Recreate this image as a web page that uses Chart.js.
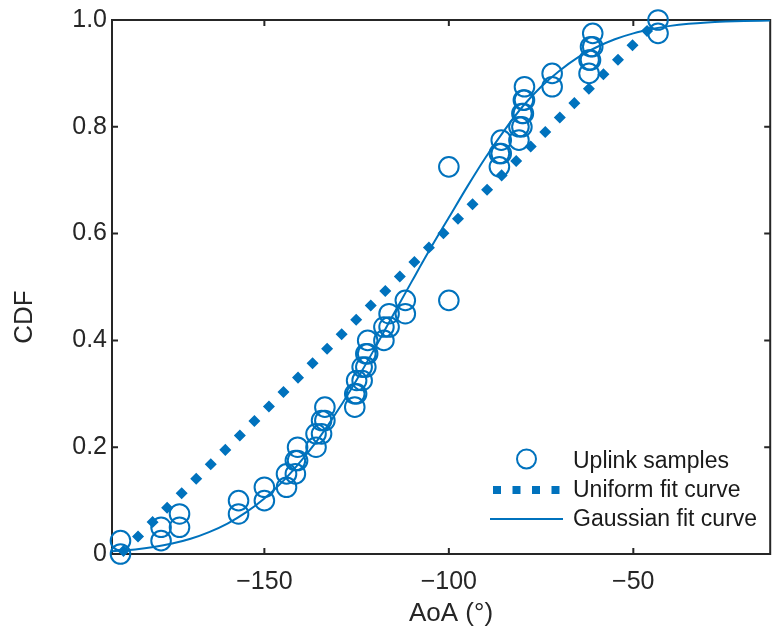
<!DOCTYPE html>
<html>
<head>
<meta charset="utf-8">
<script src="https://cdn.jsdelivr.net/npm/chart.js@4.4.1/dist/chart.umd.min.js"></script>
<style>
  html, body { margin: 0; padding: 0; background: #ffffff; }
  #wrap { width: 782px; height: 631px; position: relative; }
</style>
</head>
<body>
<div id="wrap"><canvas id="c" width="782" height="631"></canvas></div>
<script>
// ---- data ----
// Empirical CDF markers (each sample drawn at the bottom and top of its step)
const sampleAoA = [-189, -189, -178, -178, -173, -173, -157, -157, -150, -150,
  -144, -144, -141.6, -141.6, -141, -141, -136, -136, -134.5, -134.5,
  -133.6, -133.6, -125.5, -125.5, -125, -125, -123.5, -123.5, -122.5, -122.5,
  -122, -122, -117.6, -117.6, -116.2, -116.2, -111.8, -111.8, -100, -100,
  -86.3, -86.3, -85.8, -85.8, -81, -81, -80.2, -80.2, -79.8, -79.8,
  -79.5, -79.5, -72, -72, -62, -62, -61.6, -61.6, -61, -61, -43.3, -43.3];
const sampleCdf = [0, 0.025, 0.025, 0.05, 0.05, 0.075, 0.075, 0.1, 0.1, 0.125,
  0.125, 0.15, 0.15, 0.175, 0.175, 0.2, 0.2, 0.225, 0.225, 0.25,
  0.25, 0.275, 0.275, 0.3, 0.3, 0.325, 0.325, 0.35, 0.35, 0.375,
  0.375, 0.4, 0.4, 0.425, 0.425, 0.45, 0.45, 0.475, 0.475, 0.725,
  0.725, 0.75, 0.75, 0.775, 0.775, 0.8, 0.8, 0.825, 0.825, 0.85,
  0.85, 0.875, 0.875, 0.9, 0.9, 0.925, 0.925, 0.95, 0.95, 0.975, 0.975, 1.0];

// Uniform fit curve (straight line between its end points)
const uniformAoA = [-189, -43.3];
const uniformCdf = [0, 1];

// Gaussian fit curve
const gaussAoA = [-191.3, -185, -180, -175, -170, -165, -160, -155, -150, -145,
  -140, -135, -130, -125, -120, -115, -110, -105, -100, -95,
  -90, -85, -80, -75, -70, -65, -60, -55, -50, -45,
  -40, -35, -30, -25, -20, -12.9];
const gaussCdf = [0.005, 0.0085, 0.013, 0.0195, 0.0285, 0.041, 0.057, 0.078, 0.104, 0.136,
  0.175, 0.219, 0.270, 0.326, 0.386, 0.449, 0.511, 0.572, 0.630, 0.688,
  0.743, 0.793, 0.838, 0.875, 0.905, 0.930, 0.949, 0.964, 0.975, 0.983,
  0.989, 0.993, 0.9955, 0.997, 0.998, 0.999];

// Axes
const xTickValues = [-150, -100, -50];
const xTickLabels = ['\u2212150', '\u2212100', '\u221250'];
const yTickValues = [0, 0.2, 0.4, 0.6, 0.8, 1.0];
const yTickLabels = ['0', '0.2', '0.4', '0.6', '0.8', '1.0'];
const xRange = [-191.3, -12.9];
const yRange = [0, 1];
const xTitle = 'AoA (\u00B0)';
const yTitle = 'CDF';
const legendLabels = ['Uplink samples', 'Uniform fit curve', 'Gaussian fit curve'];

// ---- styles ----
const BLUE = '#0072BD';
const AXIS = '#262626';
const FONT = "'Liberation Sans', Arial, Helvetica, sans-serif";

const toPts = (xs, ys) => xs.map((x, i) => ({ x: x, y: ys[i] }));

const boxPlugin = {
  id: 'matlabBox',
  beforeDatasetsDraw(chart) {
    const { ctx, chartArea: a, scales } = chart;
    ctx.save();
    ctx.strokeStyle = AXIS;
    ctx.lineWidth = 2;
    ctx.strokeRect(a.left, a.top, a.right - a.left, a.bottom - a.top);
    const tl = 6;
    ctx.beginPath();
    xTickValues.forEach(v => {
      const px = scales.x.getPixelForValue(v);
      ctx.moveTo(px, a.bottom); ctx.lineTo(px, a.bottom - tl);
      ctx.moveTo(px, a.top); ctx.lineTo(px, a.top + tl);
    });
    yTickValues.forEach(v => {
      const py = scales.y.getPixelForValue(v);
      ctx.moveTo(a.left, py); ctx.lineTo(a.left + tl, py);
      ctx.moveTo(a.right, py); ctx.lineTo(a.right - tl, py);
    });
    ctx.stroke();
    ctx.restore();
  },
  afterDraw(chart) {
    const { ctx } = chart;
    ctx.save();
    ctx.fillStyle = AXIS;
    ctx.font = '26px ' + FONT;
    ctx.textAlign = 'center';
    ctx.textBaseline = 'middle';
    ctx.fillText(xTitle, 451, 614);
    ctx.translate(25, 317);
    ctx.rotate(-Math.PI / 2);
    ctx.fillText(yTitle, 0, 0);
    ctx.restore();

    // legend (no box)
    ctx.save();
    const rows = [461, 490, 519];
    const sx0 = 490, sx1 = 563, tx = 573;
    ctx.strokeStyle = BLUE;
    ctx.lineWidth = 2;
    ctx.beginPath();
    ctx.arc((sx0 + sx1) / 2, rows[0] - 2, 9.5, 0, Math.PI * 2);
    ctx.stroke();
    ctx.lineWidth = 8;
    ctx.lineCap = 'butt';
    ctx.setLineDash([8, 11.5]);
    ctx.beginPath();
    ctx.moveTo(sx0 + 3, rows[1]); ctx.lineTo(sx1, rows[1]);
    ctx.stroke();
    ctx.setLineDash([]);
    ctx.lineWidth = 2;
    ctx.beginPath();
    ctx.moveTo(sx0, rows[2]); ctx.lineTo(sx1, rows[2]);
    ctx.stroke();
    ctx.fillStyle = '#1a1a1a';
    ctx.font = '23px ' + FONT;
    ctx.textAlign = 'left';
    ctx.textBaseline = 'middle';
    legendLabels.forEach((t, i) => ctx.fillText(t, tx, rows[i] + 1));
    ctx.restore();
  }
};

new Chart(document.getElementById('c'), {
  type: 'scatter',
  data: {
    datasets: [
      {
        label: legendLabels[0],
        data: toPts(sampleAoA, sampleCdf),
        showLine: false,
        pointStyle: 'circle',
        pointRadius: 9.8,
        pointBorderWidth: 2,
        pointBorderColor: BLUE,
        pointBackgroundColor: 'rgba(0,0,0,0)',
        clip: false,
        order: 3
      },
      {
        label: legendLabels[1],
        data: toPts(uniformAoA, uniformCdf),
        showLine: true,
        pointRadius: 0,
        borderColor: BLUE,
        borderWidth: 8.5,
        borderDash: [8.5, 12],
        borderCapStyle: 'butt',
        fill: false,
        clip: false,
        order: 2
      },
      {
        label: legendLabels[2],
        data: toPts(gaussAoA, gaussCdf),
        showLine: true,
        pointRadius: 0,
        borderColor: BLUE,
        borderWidth: 2,
        cubicInterpolationMode: 'monotone',
        fill: false,
        order: 1
      }
    ]
  },
  options: {
    responsive: false,
    animation: false,
    devicePixelRatio: 1,
    layout: { padding: { top: 19, right: 1, left: 0, bottom: 0 } },
    plugins: { legend: { display: false }, tooltip: { enabled: false } },
    scales: {
      x: {
        type: 'linear',
        min: xRange[0], max: xRange[1],
        grid: { display: false, drawTicks: false },
        border: { display: false },
        afterBuildTicks: s => { s.ticks = xTickValues.map(v => ({ value: v })); },
        afterFit: s => { s.height = 77; },
        ticks: {
          color: AXIS,
          font: { family: FONT, size: 25 },
          padding: 13,
          maxRotation: 0,
          autoSkip: false,
          callback: (v, i) => xTickLabels[i]
        }
      },
      y: {
        type: 'linear',
        min: yRange[0], max: yRange[1],
        grid: { display: false, drawTicks: false },
        border: { display: false },
        afterBuildTicks: s => { s.ticks = yTickValues.map(v => ({ value: v })); },
        afterFit: s => { s.width = 112; },
        ticks: {
          color: AXIS,
          font: { family: FONT, size: 25 },
          padding: 5,
          autoSkip: false,
          callback: (v, i) => yTickLabels[i]
        }
      }
    }
  },
  plugins: [boxPlugin]
});
</script>
</body>
</html>
